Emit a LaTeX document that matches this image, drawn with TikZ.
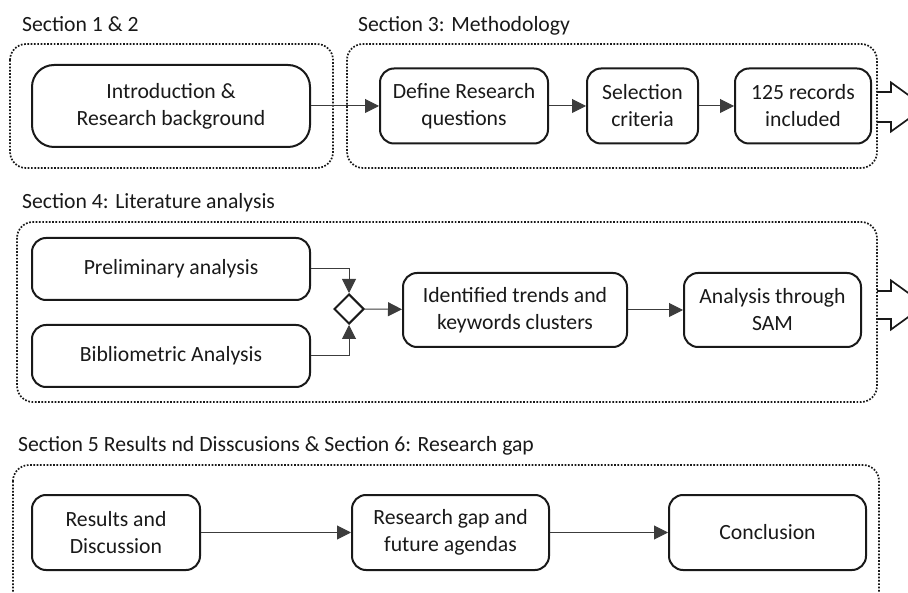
\documentclass[tikz,border=0pt]{standalone}
\usepackage{fontspec}
\setmainfont{Carlito}
\usetikzlibrary{arrows.meta, positioning, shapes.geometric}
\definecolor{figInk}{RGB}{25,25,25}
\definecolor{figLine}{RGB}{60,60,60}

\begin{document}
\begin{tikzpicture}[x=1pt, y=-1pt,
    phase/.style={draw=figInk, line width=2pt, rounded corners=14pt, align=center, text=figInk, font=\fontsize{21.7}{27}\selectfont, inner sep=0pt, minimum height=75pt},
    group/.style={draw=figInk, line width=1.7pt, dash pattern=on 1.7pt off 1.6pt, rounded corners=16pt},
    grouplabel/.style={anchor=base west, inner sep=0pt, text=figInk, font=\fontsize{21.7}{27}\selectfont},
    merge/.style={draw=figInk, line width=2pt, diamond, minimum width=30pt, minimum height=30pt, inner sep=0pt},
    arrow/.style={-{Triangle[length=14pt, width=14pt]}, line width=1pt, draw=figLine},
    bigarrow/.style={draw=figInk, line width=1.7pt, line join=miter},
    node distance=36pt
]
    \clip (0,0) rectangle (908,593);

    % section 1 & 2
    \node[grouplabel] (lab12) at (22,32) {Section 1 \& 2};
    \draw[group] (10,44) rectangle (333,168);
    \node[phase, minimum width=278pt, minimum height=82pt, rounded corners=22pt] (intro) at (171,106) {Introduction \&\\Research background};

    % section 3
    \node[grouplabel] (lab3) at (358,32) {Section 3: Methodology};
    \draw[group] (347,44) rectangle (877,168);
    \node[phase, minimum width=168pt] (define) at (464,106) {Define Research\\questions};
    \node[phase, minimum width=111pt, right=37pt of define] (select) {Selection\\criteria};
    \node[phase, minimum width=136pt, right=35pt of select] (records) {125 records\\included};
    \coordinate (methout) at (877,107);

    % section 4
    \node[grouplabel] (lab4) at (22,209) {Section 4: Literature analysis};
    \draw[group] (17,222) rectangle (877,402);
    \node[phase, minimum width=278pt, minimum height=62pt] (prelim) at (171,269) {Preliminary analysis};
    \node[phase, minimum width=278pt, minimum height=62pt] (biblio) at (171,356) {Bibliometric Analysis};
    \node[merge] (join) at (349,309) {};
    \node[phase, minimum width=224pt, minimum height=74pt] (trends) at (515,310) {Identified trends and\\keywords clusters};
    \node[phase, minimum width=177pt, minimum height=74pt, right=55pt of trends] (sam) {Analysis through\\SAM};
    \coordinate (litout) at (877,305);

    % section 5 & 6
    \node[grouplabel] (lab56) at (18,452) {Section 5 Results nd Disscusions \& Section 6: Research gap};
    \draw[group] (13,465) rectangle (879,625);
    \node[phase, minimum width=168pt] (results) at (116,532.5) {Results and\\Discussion};
    \node[phase, minimum width=197pt, right=150pt of results] (gap) {Research gap and\\future agendas};
    \node[phase, minimum width=197pt, right=118pt of gap] (concl) {Conclusion};

    \draw[arrow] (intro) -- (define);
    \draw[arrow] (define) -- (select);
    \draw[arrow] (select) -- (records);
    \draw[arrow] (prelim.east) -| (join.north);
    \draw[arrow] (biblio.east) -| (join.south);
    \draw[arrow] (join) -- (trends);
    \draw[arrow] (trends) -- (sam);
    \draw[arrow] (results) -- (gap);
    \draw[arrow] (gap) -- (concl);

    % hollow arrows leaving the boxes
    \draw[bigarrow] (methout) ++(0,-15) -- ++(14,0) -- ++(0,-9.5) -- ++(34,24.5) -- ++(-34,24.5) -- ++(0,-9.5) -- ++(-14,0);
    \draw[bigarrow] (litout) ++(0,-14) -- ++(14,0) -- ++(0,-10.5) -- ++(34,24.5) -- ++(-34,24.5) -- ++(0,-10.5) -- ++(-14,0);
\end{tikzpicture}
\end{document}
